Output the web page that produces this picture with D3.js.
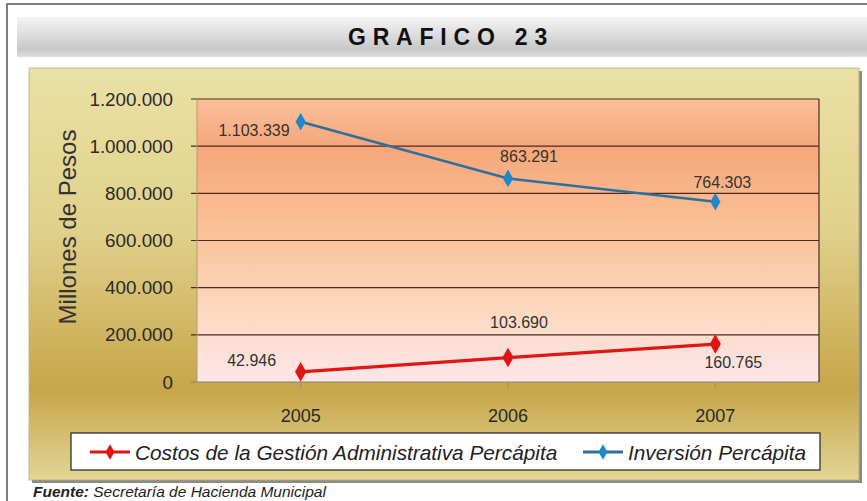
<!DOCTYPE html>
<html>
<head>
<meta charset="utf-8">
<script src="https://cdn.jsdelivr.net/npm/d3@7"></script>
<style>
  body { margin:0; background:#fff; }
  svg { display:block; font-family:"Liberation Sans", Arial, sans-serif; }
</style>
</head>
<body>
<div id="chart"></div>
<script>
(function drawChart(){

  // data
  var years = ["2005", "2006", "2007"];
  var costos = [42946, 103690, 160765];
  var inversion = [1103339, 863291, 764303];
  var yTicks = [0, 200000, 400000, 600000, 800000, 1000000, 1200000];
  var seriesNames = ["Costos de la Gestión Administrativa Percápita", "Inversión Percápita"];

  // label offsets (dx, dy, anchor) per point
  var costosLabelPos = [[-49, -6, "middle"], [11, -30, "middle"], [18, 24, "middle"]];
  var inversionLabelPos = [[-11, 14, "end"], [21, -16, "middle"], [7, -14, "middle"]];

  var W = 867, H = 501;
  var plot = {left:197, right:819, top:99, bottom:382};

  var fmt = function(v){ return d3.format(",")(v).replace(/,/g, "."); };

  var svg = d3.select("#chart").append("svg")
    .attr("width", W).attr("height", H);

  var defs = svg.append("defs");

  var silver = defs.append("linearGradient").attr("id", "silver")
    .attr("x1", 0).attr("y1", 0).attr("x2", 0).attr("y2", 1);
  silver.append("stop").attr("offset", "0").attr("stop-color", "#f4f4f4");
  silver.append("stop").attr("offset", "0.35").attr("stop-color", "#e2e2e2");
  silver.append("stop").attr("offset", "0.8").attr("stop-color", "#c8c8c8");
  silver.append("stop").attr("offset", "1").attr("stop-color", "#dedede");

  var gold = defs.append("linearGradient").attr("id", "gold")
    .attr("x1", 0).attr("y1", 0).attr("x2", 0).attr("y2", 1);
  gold.append("stop").attr("offset", "0").attr("stop-color", "#ebe1a6");
  gold.append("stop").attr("offset", "0.4").attr("stop-color", "#e0d08a");
  gold.append("stop").attr("offset", "0.78").attr("stop-color", "#c6a64a");
  gold.append("stop").attr("offset", "1").attr("stop-color", "#e3d595");

  var peach = defs.append("linearGradient").attr("id", "peach")
    .attr("x1", 0).attr("y1", 0).attr("x2", 0).attr("y2", 1);
  peach.append("stop").attr("offset", "0").attr("stop-color", "#f9c09a");
  peach.append("stop").attr("offset", "0.17").attr("stop-color", "#f7a67a");
  peach.append("stop").attr("offset", "0.5").attr("stop-color", "#fac59c");
  peach.append("stop").attr("offset", "0.8").attr("stop-color", "#fcdcc8");
  peach.append("stop").attr("offset", "1").attr("stop-color", "#fde6ea");

  // page frame
  svg.append("path")
    .attr("d", "M7," + H + "V4H" + W)
    .attr("fill", "none").attr("stroke", "#555").attr("stroke-width", 1.5);

  // title banner
  svg.append("rect").attr("x", 17).attr("y", 17).attr("width", W - 17).attr("height", 40)
    .attr("fill", "url(#silver)");
  svg.append("text").attr("x", 451).attr("y", 45)
    .attr("text-anchor", "middle")
    .attr("font-size", 23).attr("font-weight", "bold")
    .attr("letter-spacing", 6.8).attr("fill", "#111")
    .text("GRAFICO 23");

  // chart area with shadow
  svg.append("rect").attr("x", 32).attr("y", 71).attr("width", 830).attr("height", 412)
    .attr("fill", "#8a8a8a");
  svg.append("rect").attr("x", 29).attr("y", 68).attr("width", 830).attr("height", 412)
    .attr("fill", "url(#gold)").attr("stroke", "#b8ad80").attr("stroke-width", 0.8);

  var x = d3.scalePoint().domain(years).range([plot.left, plot.right]).padding(0.5);
  var y = d3.scaleLinear().domain([0, 1200000]).range([plot.bottom, plot.top]);

  // plot background
  svg.append("rect")
    .attr("x", plot.left).attr("y", plot.top)
    .attr("width", plot.right - plot.left).attr("height", plot.bottom - plot.top)
    .attr("fill", "url(#peach)");

  // grid
  svg.append("g").selectAll("line").data(yTicks).join("line")
    .attr("x1", plot.left - 6).attr("x2", plot.right)
    .attr("y1", function(d){ return y(d); }).attr("y2", function(d){ return y(d); })
    .attr("stroke", function(d){ return d === 0 ? "#8a8070" : "#4a2a22"; })
    .attr("stroke-width", 1.2);

  svg.append("line").attr("x1", plot.right).attr("x2", plot.right)
    .attr("y1", plot.top).attr("y2", plot.bottom)
    .attr("stroke", "#4a2a22").attr("stroke-width", 1.2);
  svg.append("line").attr("x1", plot.left).attr("x2", plot.left)
    .attr("y1", plot.top).attr("y2", plot.bottom)
    .attr("stroke", "#b0a070").attr("stroke-width", 1);

  // x ticks
  svg.append("g").selectAll("line").data(years).join("line")
    .attr("x1", function(d){ return x(d); }).attr("x2", function(d){ return x(d); })
    .attr("y1", plot.bottom).attr("y2", plot.bottom + 6)
    .attr("stroke", "#9a9070");

  // y tick labels
  svg.append("g").selectAll("text").data(yTicks).join("text")
    .attr("x", 173).attr("y", function(d){ return y(d) + 6.5; })
    .attr("text-anchor", "end").attr("font-size", 18.8).attr("fill", "#2a2a2a")
    .text(function(d){ return fmt(d); });

  // x tick labels
  svg.append("g").selectAll("text").data(years).join("text")
    .attr("x", function(d){ return x(d); }).attr("y", 422)
    .attr("text-anchor", "middle").attr("font-size", 18).attr("fill", "#2a2a2a")
    .text(function(d){ return d; });

  // y axis title
  svg.append("text")
    .attr("transform", "translate(76," + 227 + ")rotate(-90)")
    .attr("text-anchor", "middle").attr("font-size", 24).attr("fill", "#333")
    .text("Millones de Pesos");

  var line = d3.line()
    .x(function(d, i){ return x(years[i]); })
    .y(function(d){ return y(d); });

  var diamond = d3.symbol().type(d3.symbolDiamond);

  function drawSeries(values, color, markerColor, width, size, labelPos){
    var g = svg.append("g");
    g.append("path").datum(values)
      .attr("d", line).attr("fill", "none")
      .attr("stroke", color).attr("stroke-width", width);
    g.selectAll("path.m").data(values).join("path")
      .attr("class", "m")
      .attr("transform", function(d, i){ return "translate(" + x(years[i]) + "," + y(d) + ")"; })
      .attr("d", diamond.size(size)())
      .attr("fill", markerColor);
    g.selectAll("text").data(values).join("text")
      .attr("x", function(d, i){ return x(years[i]) + labelPos[i][0]; })
      .attr("y", function(d, i){ return y(d) + labelPos[i][1]; })
      .attr("text-anchor", function(d, i){ return labelPos[i][2]; })
      .attr("font-size", 16).attr("fill", "#333")
      .text(function(d){ return fmt(d); });
  }

  drawSeries(inversion, "#2f6f9e", "#1f88c8", 2.5, 90, inversionLabelPos);
  drawSeries(costos, "#e01515", "#e01515", 3.2, 110, costosLabelPos);

  // legend
  var legend = svg.append("g");
  legend.append("rect").attr("x", 71).attr("y", 433).attr("width", 749).attr("height", 37)
    .attr("fill", "#fff").attr("stroke", "#222").attr("stroke-width", 1.2);

  var legendItems = [
    {name: seriesNames[0], color: "#e01515", marker: "#e01515", x: 90},
    {name: seriesNames[1], color: "#2f6f9e", marker: "#1f88c8", x: 583}
  ];
  legendItems.forEach(function(it){
    legend.append("line").attr("x1", it.x).attr("x2", it.x + 40)
      .attr("y1", 452).attr("y2", 452)
      .attr("stroke", it.color).attr("stroke-width", 3);
    legend.append("path")
      .attr("transform", "translate(" + (it.x + 20) + ",452)")
      .attr("d", diamond.size(70)())
      .attr("fill", it.marker);
    legend.append("text").attr("x", it.x + 45).attr("y", 459.5)
      .attr("font-size", 20.8).attr("font-style", "italic").attr("fill", "#222")
      .text(it.name);
  });

  // source
  var src = svg.append("text").attr("x", 33).attr("y", 497)
    .attr("font-size", 15.5).attr("font-style", "italic").attr("fill", "#222");
  src.append("tspan").attr("font-weight", "bold").text("Fuente:");
  src.append("tspan").text(" Secretaría de Hacienda Municipal");

})();
</script>
</body>
</html>
